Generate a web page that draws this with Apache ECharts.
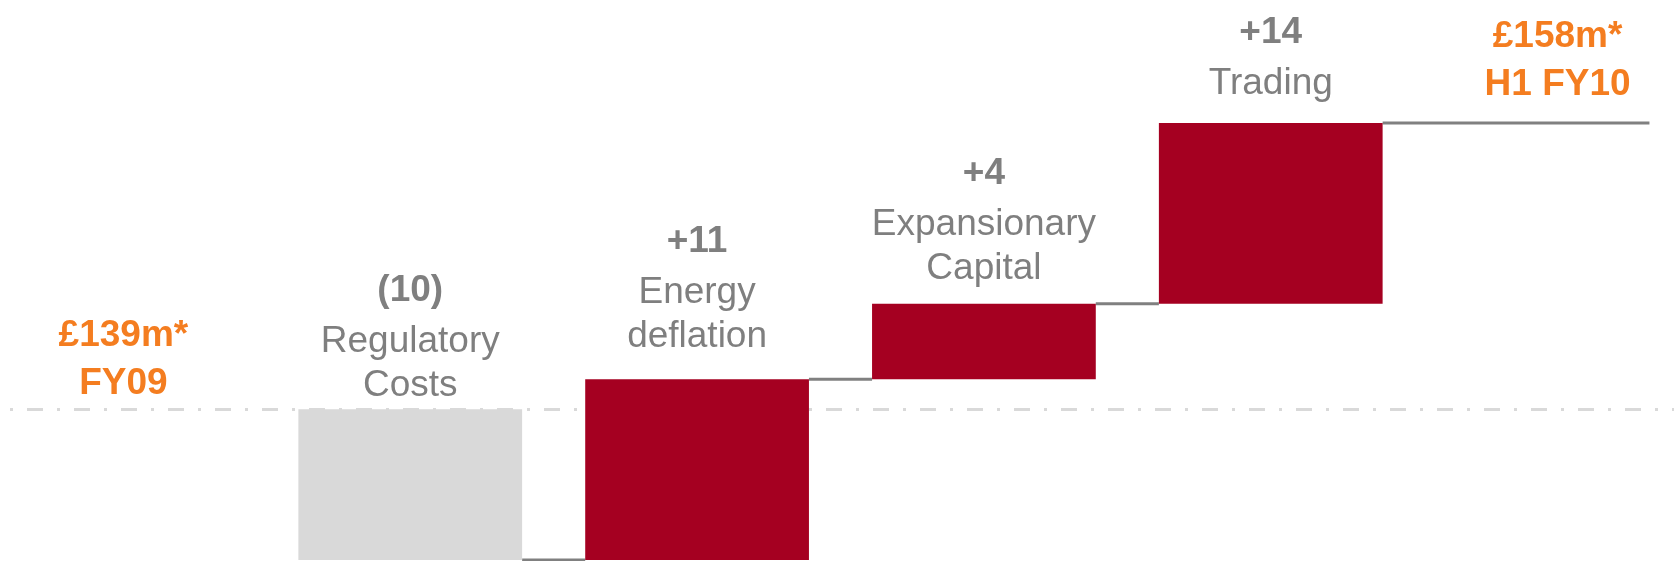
<!DOCTYPE html>
<html>
<head>
<meta charset="utf-8">
<script src="https://cdn.jsdelivr.net/npm/echarts@6/dist/echarts.min.js"></script>
<style>
  html, body { margin: 0; padding: 0; background: #fff; }
  #chart { width: 1674px; height: 561px; }
</style>
</head>
<body>
<div id="chart"></div>
<script>
  // chart data
  const categories = ['FY09', 'Regulatory\nCosts', 'Energy\ndeflation', 'Expansionary\nCapital', 'Trading', 'H1 FY10'];
  const valueLabels = ['£139m*', '(10)', '+11', '+4', '+14', '£158m*'];
  const startTotal = 139;
  // step heights as drawn on the slide (the slide is not drawn to scale)
  const drawnSteps = [-10, 12, 5, 12];

  // running totals: 139, 129, 141, 146, 158
  const levels = [startTotal];
  drawnSteps.forEach((s) => levels.push(levels[levels.length - 1] + s));

  const GREY_TEXT = '#7f7f7f';
  const ORANGE = '#f47d20';
  const RED = '#a50021';
  const LIGHT = '#d9d9d9';
  const FONT = "'Liberation Sans', Arial, sans-serif";
  // distance (px) from column top to the centre of the label's last line
  const labelGap = [26, 24, 42, 35, 39, 38];

  const chart = echarts.init(document.getElementById('chart'));

  function labelText(i) {
    const last = categories.length - 1;
    if (i === 0 || i === last) {
      return `{o|${valueLabels[i]}}\n{o|${categories[i]}}`;
    }
    const lines = categories[i].split('\n').map((l) => `{c|${l}}`).join('\n');
    return `{n|${valueLabels[i]}}\n${lines}`;
  }

  function renderItem(params, api) {
    const i = params.dataIndex;
    const last = categories.length - 1;
    const band = api.size([1, 0])[0];
    const bw = band * 0.78;
    const cx = api.coord([i, startTotal])[0];
    const children = [];
    let top;

    if (i === 0) {
      top = levels[0];
    } else if (i === last) {
      top = levels[levels.length - 1];
    } else {
      const from = levels[i - 1];
      const to = levels[i];
      top = Math.max(from, to);
      const yTop = api.coord([i, top])[1];
      const yBot = api.coord([i, Math.min(from, to)])[1];
      children.push({
        type: 'rect',
        shape: { x: cx - bw / 2, y: yTop, width: bw, height: yBot - yTop },
        style: { fill: drawnSteps[i - 1] < 0 ? LIGHT : RED },
        z2: 2,
      });
      // connector to the next column (the last one runs on as the closing total)
      const yl = api.coord([i, to])[1];
      const xEnd = i === last - 1 ? cx + band + bw / 2 - 20 : cx + band - bw / 2;
      children.push({
        type: 'line',
        shape: { x1: cx + bw / 2, y1: yl, x2: xEnd, y2: yl },
        style: { stroke: '#808080', lineWidth: 3 },
        z2: 1,
      });
    }

    const lastLineH = i === 0 || i === last ? 48 : 44;
    const yLabel = api.coord([i, top])[1] - labelGap[i] + lastLineH / 2;
    children.push({
      type: 'text',
      x: cx,
      y: yLabel,
      style: {
        text: labelText(i),
        align: 'center',
        verticalAlign: 'bottom',
        rich: {
          o: { fill: ORANGE, fontSize: 37, fontWeight: 'bold', fontFamily: FONT, lineHeight: 48, align: 'center' },
          n: { fill: GREY_TEXT, fontSize: 37, fontWeight: 'bold', fontFamily: FONT, lineHeight: 58, align: 'center' },
          c: { fill: GREY_TEXT, fontSize: 37, fontFamily: FONT, lineHeight: 44, align: 'center' },
        },
      },
      z2: 3,
    });

    return { type: 'group', children };
  }

  const option = {
    animation: false,
    backgroundColor: '#ffffff',
    grid: { left: -20, right: -27, top: 123, bottom: 1, outerBoundsMode: 'none' },
    xAxis: {
      type: 'category',
      data: categories,
      show: false,
    },
    yAxis: {
      type: 'value',
      min: levels[1],
      max: levels[levels.length - 1],
      show: false,
    },
    series: [
      {
        type: 'custom',
        renderItem,
        data: categories.map((c, i) => [i]),
        z: 2,
        markLine: {
          silent: true,
          z: 1,
          symbol: ['none', 'none'],
          label: { show: false },
          lineStyle: { color: LIGHT, width: 3, type: [16, 14, 3, 14], dashOffset: 0 },
          data: [{ yAxis: startTotal }],
        },
      },
    ],
  };

  chart.setOption(option);
  window.addEventListener('resize', () => chart.resize());
</script>
</body>
</html>
